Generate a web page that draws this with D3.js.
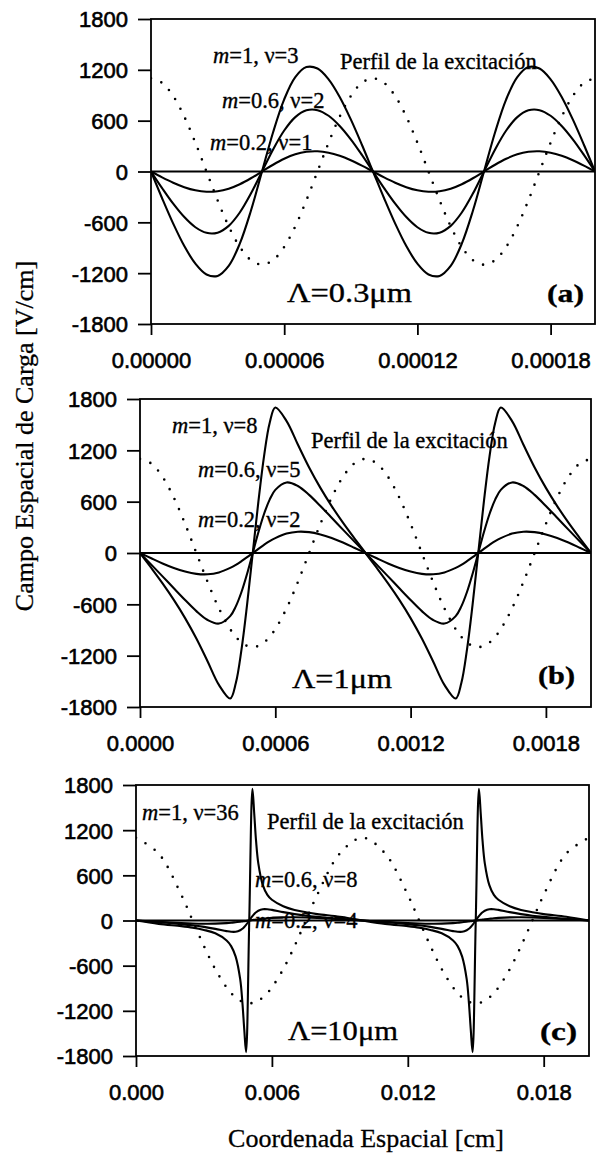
<!DOCTYPE html>
<html>
<head>
<meta charset="utf-8">
<script src="https://cdn.jsdelivr.net/npm/d3@7"></script>
<style>
  body { margin: 0; background: #fff; }
  svg { display: block; }
</style>
</head>
<body>
<svg id="chart" width="596" height="1155"></svg>
<script>
// ---------- data (x in cm, field in V/cm) ----------

// shared field axis
const fieldTicks = [-1800, -1200, -600, 0, 600, 1200, 1800];

// panel (a)  Λ = 0.3 µm
const xA = [0, 0.000005, 0.00001, 0.000015, 0.00002, 0.000025, 0.00003, 0.000035, 0.00004, 0.000045,
  0.00005, 0.000055, 0.00006, 0.000065, 0.00007, 0.000075, 0.00008, 0.000085, 0.00009, 0.000095,
  0.0001, 0.000105, 0.00011, 0.000115, 0.00012, 0.000125, 0.00013, 0.000135, 0.00014, 0.000145,
  0.00015, 0.000155, 0.00016, 0.000165, 0.00017, 0.000175, 0.00018, 0.000185, 0.00019, 0.000195, 0.0002];
const excA = [1100, 1046, 890, 647, 340, 0, -340, -647, -890, -1046, -1100, -1046, -890, -647, -340, 0, 340, 647, 890, 1046,
  1100, 1046, 890, 647, 340, 0, -340, -647, -890, -1046, -1100, -1046, -890, -647, -340, 0, 340, 647, 890, 1046, 1100];
const m1A = [0, -316, -615, -880, -1088, -1215, -1232, -1114, -852, -464, 0, 464, 852, 1114, 1232, 1215, 1088, 880, 615, 316,
  0, -316, -615, -880, -1088, -1215, -1232, -1114, -852, -464, 0, 464, 852, 1114, 1232, 1215, 1088, 880, 615, 316, 0];
const m06A = [0, -196, -380, -538, -658, -724, -722, -642, -484, -261, 0, 261, 484, 642, 722, 724, 658, 538, 380, 196,
  0, -196, -380, -538, -658, -724, -722, -642, -484, -261, 0, 261, 484, 642, 722, 724, 658, 538, 380, 196, 0];
const m02A = [0, -69, -132, -185, -222, -239, -233, -203, -150, -80, 0, 80, 150, 203, 233, 239, 222, 185, 132, 69,
  0, -69, -132, -185, -222, -239, -233, -203, -150, -80, 0, 80, 150, 203, 233, 239, 222, 185, 132, 69, 0];
const xTicksA = [0, 0.00006, 0.00012, 0.00018];
const xTickLabelsA = ["0.00000", "0.00006", "0.00012", "0.00018"];

// panel (b)  Λ = 1 µm
const xB = [0, 0.00005, 0.0001, 0.00015, 0.0002, 0.00025, 0.0003, 0.00035, 0.0004, 0.000425, 0.00045, 0.000475,
  0.0005, 0.000525, 0.00055, 0.000575, 0.0006, 0.00065, 0.0007, 0.00075, 0.0008, 0.00085, 0.0009, 0.00095,
  0.001, 0.00105, 0.0011, 0.00115, 0.0012, 0.00125, 0.0013, 0.00135, 0.0014, 0.001425, 0.00145, 0.001475,
  0.0015, 0.001525, 0.00155, 0.001575, 0.0016, 0.00165, 0.0017, 0.00175, 0.0018, 0.00185, 0.0019, 0.00195, 0.002];
const excB = [1100, 1046, 890, 647, 340, 0, -340, -647, -890, -980, -1046, -1086, -1100, -1086, -1046, -980, -890, -647, -340, 0, 340, 647, 890, 1046,
  1100, 1046, 890, 647, 340, 0, -340, -647, -890, -980, -1046, -1086, -1100, -1086, -1046, -980, -890, -647, -340, 0, 340, 647, 890, 1046, 1100];
const m1B = [0, -175, -355, -548, -761, -1000, -1268, -1542, -1700, -1520, -1130, -600, 0, 600, 1130, 1520, 1700, 1542, 1268, 1000, 761, 548, 355, 175,
  0, -175, -355, -548, -761, -1000, -1268, -1542, -1700, -1520, -1130, -600, 0, 600, 1130, 1520, 1700, 1542, 1268, 1000, 761, 548, 355, 175, 0];
const m06B = [0, -136, -273, -412, -549, -679, -783, -825, -738, -624, -456, -242, 0, 242, 456, 624, 738, 825, 783, 679, 549, 412, 273, 136,
  0, -136, -273, -412, -549, -679, -783, -825, -738, -624, -456, -242, 0, 242, 456, 624, 738, 825, 783, 679, 549, 412, 273, 136, 0];
const m02B = [0, -62, -122, -175, -217, -244, -249, -227, -174, -138, -95, -49, 0, 49, 95, 138, 174, 227, 249, 244, 217, 175, 122, 62,
  0, -62, -122, -175, -217, -244, -249, -227, -174, -138, -95, -49, 0, 49, 95, 138, 174, 227, 249, 244, 217, 175, 122, 62, 0];
const xTicksB = [0, 0.0006, 0.0012, 0.0018];
const xTickLabelsB = ["0.0000", "0.0006", "0.0012", "0.0018"];

// panel (c)  Λ = 10 µm
const xC = [0, 0.001, 0.002, 0.0025, 0.003, 0.0035, 0.004, 0.0042, 0.0044, 0.0046, 0.0047, 0.00478, 0.00486,
  0.005, 0.00514, 0.00522, 0.0053, 0.0054, 0.0056, 0.0058, 0.006, 0.0065, 0.007, 0.0075, 0.008, 0.009,
  0.01, 0.011, 0.012, 0.0125, 0.013, 0.0135, 0.014, 0.0142, 0.0144, 0.0146, 0.0147, 0.01478, 0.01486,
  0.015, 0.01514, 0.01522, 0.0153, 0.0154, 0.0156, 0.0158, 0.016, 0.0165, 0.017, 0.0175, 0.018, 0.019, 0.02];
const excC = [1100, 890, 340, 0, -340, -647, -890, -964, -1023, -1065, -1081, -1090, -1096, -1100, -1096, -1090, -1081, -1065, -1023, -964, -890, -647, -340, 0, 340, 890,
  1100, 890, 340, 0, -340, -647, -890, -964, -1023, -1065, -1081, -1090, -1096, -1100, -1096, -1090, -1081, -1065, -1023, -964, -890, -647, -340, 0, 340, 890, 1100];
const m1C = [0, -45, -75, -95, -125, -170, -265, -340, -480, -780, -1100, -1450, -1750, 0, 1750, 1420, 1060, 760, 470, 340, 275, 190, 140, 110, 85, 50,
  0, -45, -75, -95, -125, -170, -265, -340, -480, -780, -1100, -1450, -1750, 0, 1750, 1420, 1060, 760, 470, 340, 275, 190, 140, 110, 85, 50, 0];
const m06C = [0, -22, -48, -64, -85, -111, -141, -150, -150, -130, -109, -86, -57, 0, 57, 86, 109, 130, 150, 150, 141, 111, 85, 64, 48, 22,
  0, -22, -48, -64, -85, -111, -141, -150, -150, -130, -109, -86, -57, 0, 57, 86, 109, 130, 150, 150, 141, 111, 85, 64, 48, 22, 0];
const m02C = [0, -18, -34, -40, -43, -42, -35, -30, -23, -16, -12, -9, -6, 0, 6, 9, 12, 16, 23, 30, 35, 42, 43, 40, 34, 18,
  0, -18, -34, -40, -43, -42, -35, -30, -23, -16, -12, -9, -6, 0, 6, 9, 12, 16, 23, 30, 35, 42, 43, 40, 34, 18, 0];
const xTicksC = [0, 0.006, 0.012, 0.018];
const xTickLabelsC = ["0.000", "0.006", "0.012", "0.018"];

// curve labels per panel
const curveLabelsA = [["m", "=1, ν=3"], ["m", "=0.6, ν=2"], ["m", "=0.2, ν=1"]];
const curveLabelsB = [["m", "=1, ν=8"], ["m", "=0.6, ν=5"], ["m", "=0.2, ν=2"]];
const curveLabelsC = [["m", "=1, ν=36"], ["m", "=0.6, ν=8"], ["m", "=0.2, ν=4"]];
const profileLabel = "Perfil de la excitación";
const periodLabels = ["Λ=0.3μm", "Λ=1μm", "Λ=10μm"];
const panelTags = ["(a)", "(b)", "(c)"];
const yTitle = "Campo Espacial de Carga  [V/cm]";
const xTitle = "Coordenada Espacial [cm]";

// ---------- layout ----------
const panels = [
  { id: "a", x: xA, exc: excA, curves: [m1A, m06A, m02A], xMax: 0.0002, ticks: xTicksA, tickLabels: xTickLabelsA,
    left: 151, right: 595, top: 19, bottom: 324,
    labels: curveLabelsA, labelPos: [[213, 63], [222, 108], [210, 150]], profilePos: [340, 69],
    period: periodLabels[0], periodPos: [287, 302], periodLen: 125, tag: panelTags[0], tagPos: [547, 302] },
  { id: "b", x: xB, exc: excB, curves: [m1B, m06B, m02B], xMax: 0.002, ticks: xTicksB, tickLabels: xTickLabelsB,
    left: 140, right: 591, top: 399, bottom: 707,
    labels: curveLabelsB, labelPos: [[172, 433], [198, 477], [198, 527]], profilePos: [311, 448],
    period: periodLabels[1], periodPos: [292, 688], periodLen: 100, tag: panelTags[1], tagPos: [538, 684] },
  { id: "c", x: xC, exc: excC, curves: [m1C, m06C, m02C], xMax: 0.02, ticks: xTicksC, tickLabels: xTickLabelsC,
    left: 136, right: 589, top: 785, bottom: 1056,
    labels: curveLabelsC, labelPos: [[142, 820], [255, 887], [255, 928]], profilePos: [267, 829],
    period: periodLabels[2], periodPos: [288, 1040], periodLen: 110, tag: panelTags[2], tagPos: [540, 1040] }
];

const serif = "'Liberation Serif', 'Times New Roman', serif";
const sans = "'Liberation Sans', Arial, Helvetica, sans-serif";

const svg = d3.select("#chart");
svg.append("rect").attr("width", 596).attr("height", 1155).attr("fill", "#fff");

panels.forEach(p => {
  const xs = d3.scaleLinear().domain([0, p.xMax]).range([p.left, p.right]);
  const ys = d3.scaleLinear().domain([-1800, 1800]).range([p.bottom, p.top]);
  const g = svg.append("g");

  // text inside the plot sits under the curves
  const txt = g.append("g").attr("font-family", serif).attr("font-size", 22.5).attr("fill", "#000")
    .attr("stroke", "#000").attr("stroke-width", 0.35);
  p.labels.forEach((lab, i) => {
    const t = txt.append("text").attr("x", p.labelPos[i][0]).attr("y", p.labelPos[i][1]);
    t.append("tspan").attr("font-style", "italic").text(lab[0]);
    t.append("tspan").text(lab[1]);
  });
  txt.append("text").attr("x", p.profilePos[0]).attr("y", p.profilePos[1]).text(profileLabel);
  txt.append("text").attr("x", p.periodPos[0]).attr("y", p.periodPos[1])
    .attr("font-size", 28).attr("textLength", p.periodLen).attr("lengthAdjust", "spacingAndGlyphs")
    .text(p.period);
  txt.append("text").attr("x", p.tagPos[0]).attr("y", p.tagPos[1])
    .attr("font-size", 26).attr("font-weight", "bold").attr("textLength", 37).attr("lengthAdjust", "spacingAndGlyphs")
    .text(p.tag);

  // clip to the plot box
  g.append("clipPath").attr("id", "clip-" + p.id)
    .append("rect").attr("x", p.left).attr("y", p.top)
    .attr("width", p.right - p.left).attr("height", p.bottom - p.top);
  const plot = g.append("g").attr("clip-path", `url(#clip-${p.id})`);

  // zero line
  plot.append("line")
    .attr("x1", xs(0)).attr("x2", xs(p.xMax)).attr("y1", ys(0)).attr("y2", ys(0))
    .attr("stroke", "#000").attr("stroke-width", 1.8);

  const line = d3.line().curve(d3.curveCatmullRom.alpha(0.5));

  // excitation profile (dotted)
  plot.append("path")
    .attr("d", line(p.x.map((v, i) => [xs(v), ys(p.exc[i])])))
    .attr("fill", "none").attr("stroke", "#000").attr("stroke-width", 2.6)
    .attr("stroke-linecap", "round").attr("stroke-dasharray", "0 11");

  // space-charge field curves
  p.curves.forEach(c => {
    plot.append("path")
      .attr("d", line(p.x.map((v, i) => [xs(v), ys(c[i])])))
      .attr("fill", "none").attr("stroke", "#000").attr("stroke-width", 2.1)
      .attr("stroke-linejoin", "round");
  });

  // frame
  g.append("rect").attr("x", p.left).attr("y", p.top)
    .attr("width", p.right - p.left).attr("height", p.bottom - p.top)
    .attr("fill", "none").attr("stroke", "#000").attr("stroke-width", 1.8);

  // field axis (plain hyphen for negatives)
  const ya = g.append("g").attr("transform", `translate(${p.left},0)`)
    .call(d3.axisLeft(ys).tickValues(fieldTicks).tickFormat(d => String(d)).tickSize(13).tickPadding(10).tickSizeOuter(0));
  ya.select(".domain").remove();
  ya.selectAll("line").attr("stroke-width", 1.8);
  ya.selectAll("text").attr("font-family", sans).attr("font-size", 22).attr("fill", "#000")
    .attr("stroke", "#000").attr("stroke-width", 0.6).attr("dy", "0.36em");

  // position axis
  const xa = g.append("g").attr("transform", `translate(0,${p.bottom})`)
    .call(d3.axisBottom(xs).tickValues(p.ticks).tickFormat((d, i) => p.tickLabels[i]).tickSize(11).tickSizeOuter(0));
  xa.select(".domain").remove();
  xa.selectAll("line").attr("stroke-width", 1.8);
  xa.selectAll("text").attr("font-family", sans).attr("font-size", 22).attr("fill", "#000")
    .attr("stroke", "#000").attr("stroke-width", 0.6)
    .attr("y", 44).attr("dy", null);
});

// axis titles
svg.append("text")
  .attr("transform", "translate(33,436) rotate(-90)")
  .attr("text-anchor", "middle").attr("font-family", serif).attr("font-size", 26)
  .attr("stroke", "#000").attr("stroke-width", 0.3)
  .text(yTitle);
svg.append("text")
  .attr("x", 366).attr("y", 1147)
  .attr("text-anchor", "middle").attr("font-family", serif).attr("font-size", 26)
  .attr("stroke", "#000").attr("stroke-width", 0.3)
  .text(xTitle);
</script>
</body>
</html>
